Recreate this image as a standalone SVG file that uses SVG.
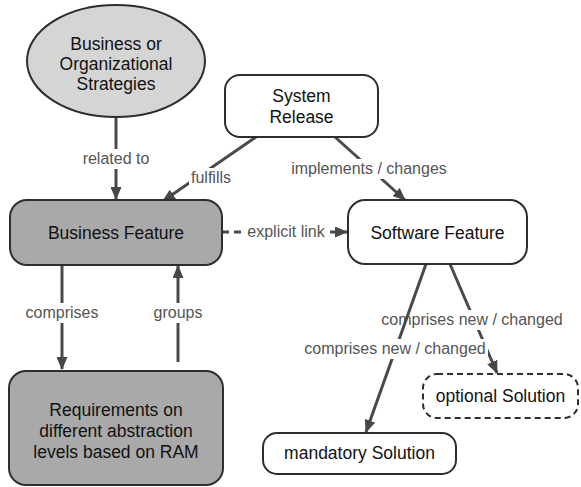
<svg xmlns="http://www.w3.org/2000/svg" width="581" height="487" viewBox="0 0 581 487">
  <defs>
    <marker id="arrow" markerWidth="13" markerHeight="11" refX="12" refY="5.5" orient="auto" markerUnits="userSpaceOnUse">
      <path d="M0,0 L13,5.5 L0,11 z" fill="#474747"/>
    </marker>
    <style>
      .node { stroke: #2e2e2e; stroke-width: 2; }
      .light { fill: #d5d5d5; }
      .dark { fill: #a9a9a9; }
      .white { fill: #ffffff; }
      .dashed { stroke-dasharray: 6 4; }
      .ntext { font-family: "Liberation Sans", Arial, sans-serif; font-size: 17.5px; fill: #111; text-anchor: middle; }
      .edge { stroke: #4a4a4a; stroke-width: 3; fill: none; }
      .edge.dash { stroke-dasharray: 7 5; }
      .ltext { font-family: "Liberation Sans", Arial, sans-serif; font-size: 16px; fill: #555; text-anchor: middle; }
      .lbg { fill: #ffffff; }
    </style>
  </defs>
  <rect width="581" height="487" fill="#ffffff"/>

  <!-- connectors -->
  <g id="connectors">
    <line class="edge" x1="116" y1="117" x2="116" y2="199" marker-end="url(#arrow)"/>
    <rect class="lbg" x="80" y="149" width="72" height="20"/>
    <text class="ltext" x="116" y="164">related to</text>

    <line class="edge" x1="256" y1="137" x2="163" y2="201" marker-end="url(#arrow)"/>
    <rect class="lbg" x="189" y="168" width="44" height="20"/>
    <text class="ltext" x="211" y="183">fulfills</text>

    <line class="edge" x1="335" y1="137" x2="405" y2="200" marker-end="url(#arrow)"/>
    <rect class="lbg" x="289" y="159" width="160" height="20"/>
    <text class="ltext" x="369" y="174">implements / changes</text>

    <line class="edge dash" x1="222" y1="232" x2="347" y2="232" marker-end="url(#arrow)"/>
    <rect class="lbg" x="245" y="222" width="82" height="20"/>
    <text class="ltext" x="286" y="237">explicit link</text>

    <line class="edge" x1="62" y1="265" x2="62" y2="369" marker-end="url(#arrow)"/>
    <rect class="lbg" x="24" y="303" width="76" height="20"/>
    <text class="ltext" x="62" y="318">comprises</text>

    <line class="edge" x1="178" y1="362" x2="178" y2="266" marker-end="url(#arrow)"/>
    <rect class="lbg" x="152" y="303" width="52" height="20"/>
    <text class="ltext" x="178" y="318">groups</text>

    <line class="edge" x1="450" y1="264" x2="497" y2="373" marker-end="url(#arrow)"/>
    <rect class="lbg" x="379" y="310" width="186" height="20"/>
    <text class="ltext" x="472" y="325">comprises new / changed</text>

    <line class="edge" x1="426" y1="264" x2="366" y2="432" marker-end="url(#arrow)"/>
    <rect class="lbg" x="302" y="339" width="186" height="20"/>
    <text class="ltext" x="395" y="354">comprises new / changed</text>
  </g>

  <!-- nodes -->
  <g id="strategies">
    <ellipse class="node light" cx="116" cy="61" rx="89" ry="56"/>
    <text class="ntext" x="116" y="50">Business or</text>
    <text class="ntext" x="116" y="70">Organizational</text>
    <text class="ntext" x="116" y="90">Strategies</text>
  </g>

  <g id="system-release">
    <rect class="node white" x="225" y="75" width="153" height="62" rx="15"/>
    <text class="ntext" x="301.5" y="102">System</text>
    <text class="ntext" x="301.5" y="123">Release</text>
  </g>

  <g id="business-feature">
    <rect class="node dark" x="10" y="200" width="212" height="65" rx="17"/>
    <text class="ntext" x="116" y="239">Business Feature</text>
  </g>

  <g id="software-feature">
    <rect class="node white" x="348" y="200" width="179" height="64" rx="17"/>
    <text class="ntext" x="437.5" y="239">Software Feature</text>
  </g>

  <g id="requirements">
    <rect class="node dark" x="9" y="371" width="214" height="114" rx="17"/>
    <text class="ntext" x="116" y="416">Requirements on</text>
    <text class="ntext" x="116" y="437">different abstraction</text>
    <text class="ntext" x="116" y="458">levels based on RAM</text>
  </g>

  <g id="mandatory-solution">
    <rect class="node white" x="263" y="433" width="193" height="41" rx="14"/>
    <text class="ntext" x="359.5" y="459">mandatory Solution</text>
  </g>

  <g id="optional-solution">
    <rect class="node white dashed" x="423" y="374" width="155" height="44" rx="14"/>
    <text class="ntext" x="500.5" y="402">optional Solution</text>
  </g>
</svg>
